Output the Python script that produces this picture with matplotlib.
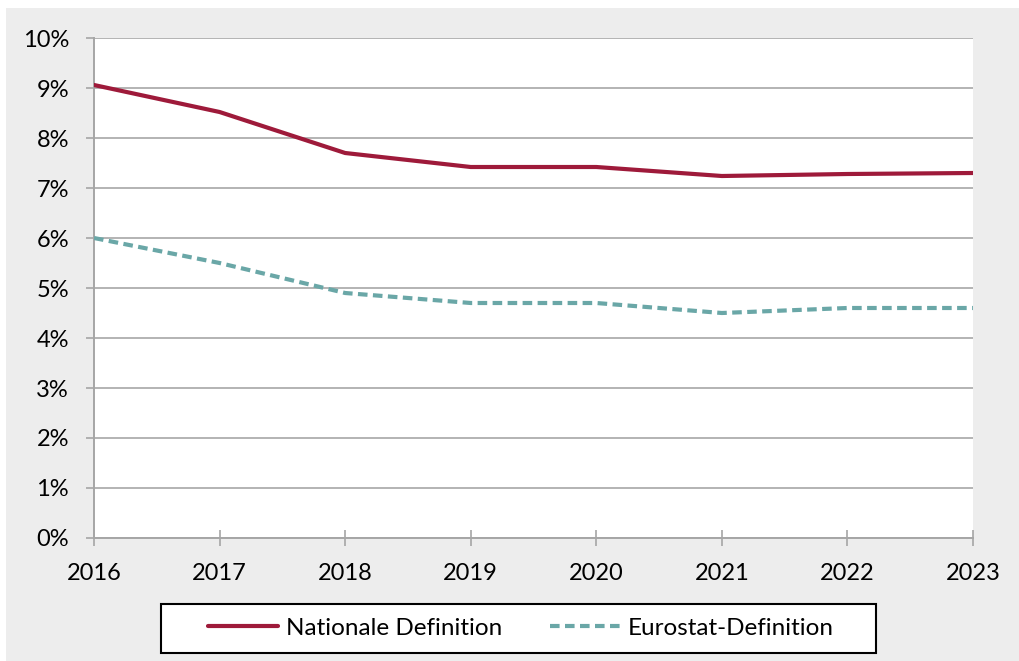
import matplotlib
matplotlib.use("Agg")
import matplotlib.pyplot as plt
from matplotlib.patches import Rectangle
from matplotlib.ticker import FuncFormatter

years = [2016, 2017, 2018, 2019, 2020, 2021, 2022, 2023]
national = [9.06, 8.52, 7.70, 7.42, 7.42, 7.24, 7.28, 7.30]
eurostat = [6.0, 5.5, 4.9, 4.7, 4.7, 4.5, 4.6, 4.6]
series_labels = ["Nationale Definition", "Eurostat-Definition"]

W, H = 1019, 661
plt.rcParams["font.family"] = ["Lato", "DejaVu Sans"]

fig = plt.figure(figsize=(W / 100, H / 100), dpi=100, facecolor="white")

# grey chart area behind everything
fig.patches.append(Rectangle((6 / W, 0), 1 - 6 / W, 1 - 8 / H,
                             transform=fig.transFigure, facecolor="#ededed",
                             edgecolor="none", zorder=-10))

ax = fig.add_axes([94 / W, (H - 538) / H, (973 - 94) / W, 500 / H])
ax.set_facecolor("white")

red = "#9e1a3a"
teal = "#6aa7a7"
ax.plot(years, national, color=red, lw=3.0, solid_capstyle="round",
        label=series_labels[0], zorder=3)
ax.plot(years, eurostat, color=teal, lw=3.0, linestyle=(0, (2.3, 1.3)),
        dash_capstyle="butt", label=series_labels[1], zorder=3)

ax.set_xlim(years[0], years[-1])
ax.set_ylim(0, 10)
ax.set_xticks(years)
ax.set_yticks(range(0, 11))
ax.yaxis.set_major_formatter(FuncFormatter(lambda v, p: f"{int(v)}%"))
ax.grid(axis="y", color="#b3b3b3", lw=1.4, zorder=1)
ax.set_axisbelow(True)

for s in ("top", "right"):
    ax.spines[s].set_visible(False)
for s in ("left", "bottom"):
    ax.spines[s].set_color("#a6a6a6")
    ax.spines[s].set_linewidth(1.4)

ax.tick_params(axis="x", direction="inout", length=12, width=1.2,
               color="#a6a6a6", labelsize=17, pad=12, labelcolor="black")
ax.tick_params(axis="y", direction="out", length=6, width=1.2,
               color="#a6a6a6", labelsize=17, pad=12, labelcolor="black")

# legend box
bx0, bx1, by0, by1 = 161, 876, 604, 653
fig.patches.append(Rectangle((bx0 / W, 1 - by1 / H), (bx1 - bx0) / W,
                             (by1 - by0) / H, transform=fig.transFigure,
                             facecolor="white", edgecolor="black",
                             linewidth=1.5, zorder=1))

leg = fig.legend(loc="center", ncol=2,
                 bbox_to_anchor=(521 / W, 1 - 628 / H),
                 fontsize=17.5, frameon=False,
                 handlelength=2.9, handletextpad=0.3, columnspacing=2.0)
leg.set_zorder(5)

fig.savefig("out.png", dpi=100, facecolor="white")
